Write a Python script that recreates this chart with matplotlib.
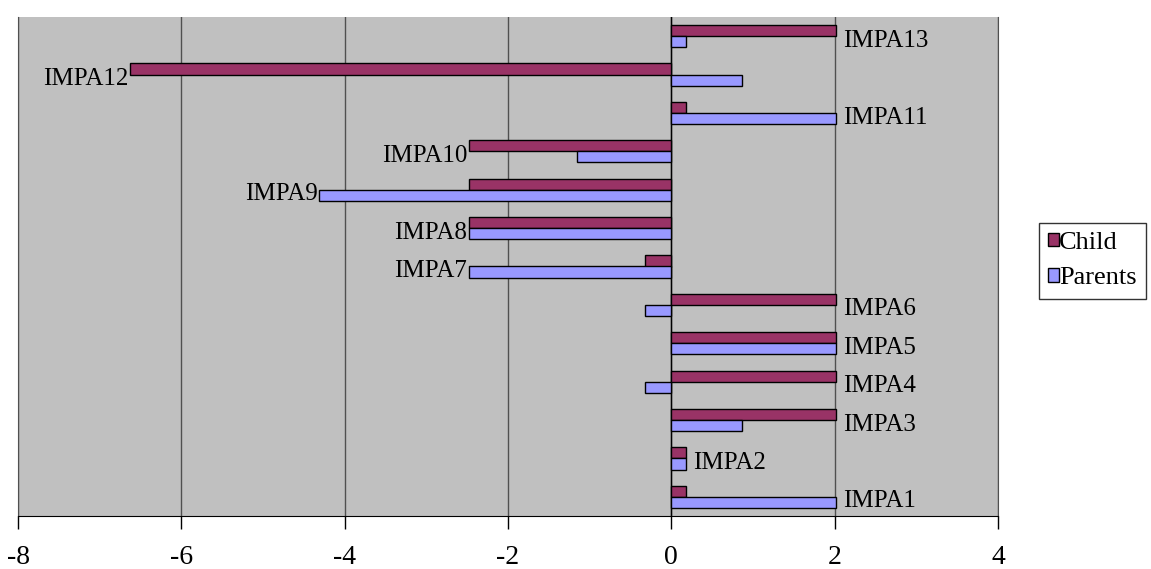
import matplotlib
matplotlib.use('Agg')
import matplotlib.pyplot as plt
import numpy as np

# data
categories = ["IMPA1", "IMPA2", "IMPA3", "IMPA4", "IMPA5", "IMPA6", "IMPA7",
              "IMPA8", "IMPA9", "IMPA10", "IMPA11", "IMPA12", "IMPA13"]
child = [0.18, 0.18, 2.02, 2.02, 2.02, 2.02, -0.32,
         -2.48, -2.48, -2.48, 0.18, -6.63, 2.02]
parents = [2.02, 0.18, 0.87, -0.32, 2.02, -0.32, -2.48,
           -2.48, -4.31, -1.16, 2.02, 0.87, 0.18]
xticks = [-8, -6, -4, -2, 0, 2, 4]

plt.rcParams['font.family'] = ['Liberation Serif', 'DejaVu Serif']

fig = plt.figure(figsize=(11.51, 5.69), dpi=100)
ax = fig.add_axes([18/1151, 1 - 516/569, (998 - 18)/1151, (516 - 17)/569])
ax.set_facecolor('#c0c0c0')

y = np.arange(len(categories))
h = 0.29
ax.barh(y + h/2, child, height=h, color='#993366', edgecolor='black',
        linewidth=1.0, label='Child', zorder=3)
ax.barh(y - h/2, parents, height=h, color='#9999ff', edgecolor='black',
        linewidth=1.0, label='Parents', zorder=3)

# category name beside the longest bar of each pair
for i, name in enumerate(categories):
    ext = child[i] if abs(child[i]) >= abs(parents[i]) else parents[i]
    if ext >= 0:
        ax.annotate(name, (ext, i - 0.12), xytext=(5, 0), textcoords='offset points',
                    ha='left', va='center', fontsize=18, zorder=4)
    else:
        ax.annotate(name, (ext, i - 0.12), xytext=(-1, 0), textcoords='offset points',
                    ha='right', va='center', fontsize=18, zorder=4)

ax.set_xlim(-8, 4)
ax.set_ylim(-0.5, len(categories) - 0.5)
ax.set_xticks(xticks)
ax.set_xticklabels([str(t) for t in xticks], fontsize=20)
ax.set_yticks([])
ax.tick_params(axis='x', direction='out', length=9, width=1, pad=12, colors='black')
ax.xaxis.grid(True, color='#505050', linewidth=1.0, zorder=1)
ax.axvline(0, color='black', linewidth=1.0, zorder=2)

ax.spines['top'].set_visible(False)
ax.spines['left'].set_color('#505050')
ax.spines['right'].set_color('#505050')
ax.spines['bottom'].set_color('black')

leg = fig.legend(loc='upper left', bbox_to_anchor=(1039/1151, 1 - 223/569),
                 fontsize=19, frameon=True, fancybox=False, edgecolor='black',
                 handlelength=0.4, handleheight=0.4, handletextpad=0.02,
                 borderpad=0.35, labelspacing=0.5, borderaxespad=0)
leg.get_frame().set_linewidth(1.0)

fig.savefig("out.png", dpi=100)
plt.close()
